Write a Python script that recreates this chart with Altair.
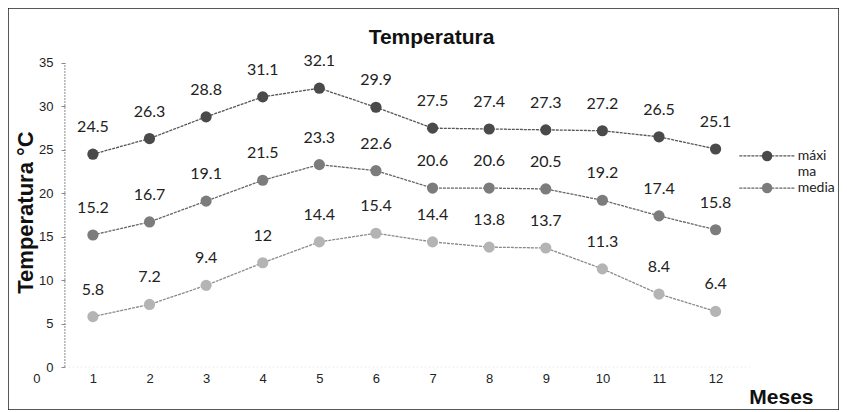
import altair as alt
import pandas as pd

meses = list(range(1, 13))
maxima = [24.5, 26.3, 28.8, 31.1, 32.1, 29.9, 27.5, 27.4, 27.3, 27.2, 26.5, 25.1]
media = [15.2, 16.7, 19.1, 21.5, 23.3, 22.6, 20.6, 20.6, 20.5, 19.2, 17.4, 15.8]
minima = [5.8, 7.2, 9.4, 12, 14.4, 15.4, 14.4, 13.8, 13.7, 11.3, 8.4, 6.4]
series = ["máxima", "media", "mínima"]
x_ticks = list(range(0, 13))
y_ticks = [0, 5, 10, 15, 20, 25, 30, 35]

# legend entries (drawn as marks because the built-in legend does not appear)
legend_names = ["máxima", "media"]
legend_label_lines = [["máxi", "ma"], ["media"]]
legend_row_y = [24.3, 20.6]

rows = []
for name, vals in zip(series, [maxima, media, minima]):
    for m, v in zip(meses, vals):
        rows.append({"mes": m, "temp": v, "serie": name, "linea": name, "lbl": str(v)})
df = pd.DataFrame(rows)

leg_rows = []
leg_text_rows = []
for name, lines_txt, yv in zip(legend_names, legend_label_lines, legend_row_y):
    leg_rows.append({"serie": name, "x1": 12.42, "x2": 13.4, "xm": 12.91, "y": yv})
    for i, t in enumerate(lines_txt):
        leg_text_rows.append({"t": t, "x": 13.45, "y": yv - i * 1.9})
leg_df = pd.DataFrame(leg_rows)
leg_text_df = pd.DataFrame(leg_text_rows)

axis_df = pd.DataFrame({"x": [0.505], "y": [y_ticks[0]], "y2": [y_ticks[-1]]})
base_df = pd.DataFrame({"x": [0.505], "x2": [12.6], "y": [0]})

W, H = 831, 402
xscale = alt.Scale(domain=[-0.5, 14.18], nice=False, zero=False)
yscale = alt.Scale(domain=[-4.95, 41.33], nice=False, zero=False)
fill_scale = alt.Scale(domain=series, range=["#4a4a4a", "#7c7c7c", "#b4b4b4"])
stroke_scale = alt.Scale(domain=series, range=["#555555", "#666666", "#8a8a8a"])

x_enc = alt.X(
    "mes:Q", scale=xscale,
    axis=alt.Axis(
        values=x_ticks, orient="bottom", offset=-40, domain=False, ticks=False,
        grid=False, labelPadding=2, labelFont="Liberation Sans", labelFontSize=13,
        labelColor="#222", format="d", labelFlush=False,
        title="Meses", titleFont="Liberation Sans", titleFontSize=21,
        titleFontWeight="bold", titleColor="#111", titleX=805, titleY=33,
        titleAlign="right", titleBaseline="alphabetic",
    ),
)
y_enc = alt.Y(
    "temp:Q", scale=yscale,
    axis=alt.Axis(
        values=y_ticks, orient="left", offset=-57, domain=False, ticks=True,
        tickSize=4, tickColor="#888", grid=False, labelPadding=8,
        labelFont="Liberation Sans", labelFontSize=13, labelColor="#222",
        labelFlush=False,
        title="Temperatura °C", titleFont="Liberation Sans", titleFontSize=22,
        titleFontWeight="bold", titleColor="#111", titleX=-40, titleY=204,
        titleAlign="center", titleBaseline="middle", titleAngle=270,
    ),
)

yaxis_line = alt.Chart(axis_df).mark_rule(color="#8a8a8a", strokeWidth=1, strokeDash=[2, 1]).encode(
    x=alt.X("x:Q", scale=xscale), y=alt.Y("y:Q", scale=yscale), y2="y2:Q"
)
xbase_line = alt.Chart(base_df).mark_rule(color="#dddddd", strokeWidth=1, strokeDash=[1, 3]).encode(
    x=alt.X("x:Q", scale=xscale), x2="x2:Q", y=alt.Y("y:Q", scale=yscale)
)

lines = alt.Chart(df).mark_line(strokeWidth=1.3, strokeDash=[3, 1]).encode(
    x=x_enc, y=y_enc,
    stroke=alt.Stroke("linea:N", scale=stroke_scale, legend=None),
    detail="linea:N",
)

points = alt.Chart(df).mark_circle(size=125, opacity=1).encode(
    x=alt.X("mes:Q", scale=xscale),
    y=alt.Y("temp:Q", scale=yscale),
    color=alt.Color("serie:N", scale=fill_scale, legend=None),
)

labels = alt.Chart(df).mark_text(dy=-27, font="Lato", fontSize=16, color="#222").encode(
    x=alt.X("mes:Q", scale=xscale),
    y=alt.Y("temp:Q", scale=yscale),
    text="lbl:N",
)

leg_lines = alt.Chart(leg_df).mark_rule(strokeWidth=1.3, strokeDash=[3, 1]).encode(
    x=alt.X("x1:Q", scale=xscale), x2="x2:Q", y=alt.Y("y:Q", scale=yscale),
    stroke=alt.Stroke("serie:N", scale=stroke_scale, legend=None),
)
leg_points = alt.Chart(leg_df).mark_circle(size=110, opacity=1).encode(
    x=alt.X("xm:Q", scale=xscale), y=alt.Y("y:Q", scale=yscale),
    color=alt.Color("serie:N", scale=fill_scale, legend=None),
)
leg_text = alt.Chart(leg_text_df).mark_text(
    align="left", baseline="middle", font="Lato", fontSize=14, color="#222"
).encode(
    x=alt.X("x:Q", scale=xscale), y=alt.Y("y:Q", scale=yscale), text="t:N"
)

chart = alt.layer(
    xbase_line, yaxis_line, lines, points, labels, leg_lines, leg_points, leg_text
).properties(
    width=W, height=H,
    autosize=alt.AutoSizeParams(type="none"),
    padding=0,
    background="white",
    title=alt.TitleParams(
        "Temperatura", font="Liberation Sans", fontSize=21, fontWeight="bold",
        color="#111", anchor="middle", offset=0, dx=8, dy=57, baseline="alphabetic",
    ),
).configure_view(stroke="#222", strokeWidth=1.5)

chart.save("out.html", embed_options={"renderer": "svg", "actions": False})
